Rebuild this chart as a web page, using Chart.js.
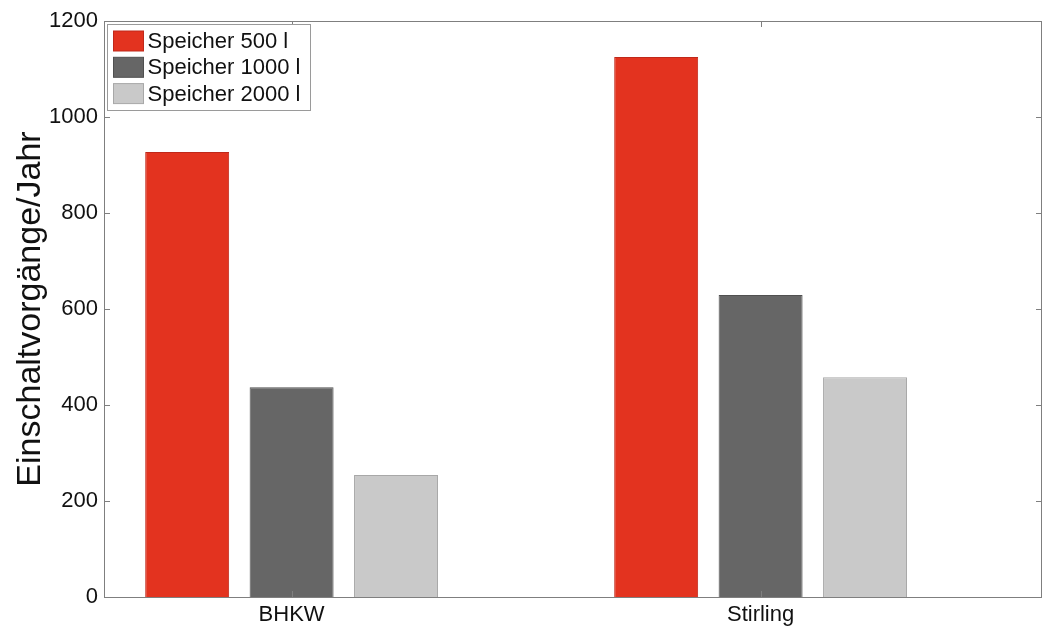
<!DOCTYPE html>
<html>
<head>
<meta charset="utf-8">
<script src="https://cdn.jsdelivr.net/npm/chart.js@4/dist/chart.umd.min.js"></script>
<style>
  html, body { margin: 0; padding: 0; background: #ffffff; }
  #wrap { width: 1045px; height: 628px; position: relative; }
</style>
</head>
<body>
<div id="wrap"><canvas id="c"></canvas></div>
<script>
// Switching operations per year for two CHP units and three storage sizes
const categories = ['BHKW', 'Stirling'];
const seriesLabels = ['Speicher 500 l', 'Speicher 1000 l', 'Speicher 2000 l'];
const speicher500 = [927, 1125];
const speicher1000 = [437, 629];
const speicher2000 = [254, 458];
const yTicks = [0, 200, 400, 600, 800, 1000, 1200];

const FONT = '"Liberation Sans", Arial, Helvetica, sans-serif';
const fills = ['#E3331F', '#666666', '#C9C9C9'];
const edges = ['#C0281A', '#505050', '#A8A8A8'];
const seriesValues = [speicher500, speicher1000, speicher2000];

// categories sit at x = 1, 2 on a linear axis running from 0.6 to 2.6
const catPos = categories.map((_, i) => i + 1);

const datasets = seriesValues.map((vals, s) => ({
  label: seriesLabels[s],
  data: vals.map((v, i) => ({ x: catPos[i], y: v })),
  backgroundColor: fills[s],
  borderColor: edges[s],
  borderWidth: 1,
  categoryPercentage: 0.668,
  barPercentage: 0.804
}));

// frame with inward ticks on all four sides, plus the legend box inside the plot
const framePlugin = {
  id: 'frame',
  afterDraw(chart) {
    const ctx = chart.ctx;
    const a = chart.chartArea;
    const xs = chart.scales.x, ys = chart.scales.y;
    ctx.save();
    ctx.strokeStyle = '#7f7f7f';
    ctx.lineWidth = 1;
    ctx.beginPath();
    ctx.rect(Math.round(a.left) + 0.5, Math.round(a.top) + 0.5,
             Math.round(a.right - a.left) - 1, Math.round(a.bottom - a.top));
    ctx.stroke();
    const tl = 6;
    ctx.beginPath();
    yTicks.forEach(v => {
      const y = Math.round(ys.getPixelForValue(v)) + 0.5;
      ctx.moveTo(a.left, y); ctx.lineTo(a.left + tl, y);
      ctx.moveTo(a.right, y); ctx.lineTo(a.right - tl, y);
    });
    catPos.forEach(v => {
      const x = Math.round(xs.getPixelForValue(v)) + 0.5;
      ctx.moveTo(x, a.bottom); ctx.lineTo(x, a.bottom - tl);
      ctx.moveTo(x, a.top); ctx.lineTo(x, a.top + tl);
    });
    ctx.stroke();

    // legend
    const lx = Math.round(a.left) + 3.5, ly = Math.round(a.top) + 3.5;
    const lw = 203, lh = 86;
    ctx.fillStyle = '#ffffff';
    ctx.fillRect(lx, ly, lw, lh);
    ctx.strokeStyle = '#9a9a9a';
    ctx.strokeRect(lx, ly, lw, lh);
    ctx.font = '22px ' + FONT;
    ctx.textBaseline = 'middle';
    ctx.textAlign = 'left';
    chart.data.datasets.forEach((ds, i) => {
      const cy = ly + 16.5 + i * 26.3;
      ctx.fillStyle = ds.backgroundColor;
      ctx.fillRect(lx + 6, cy - 10, 30, 20);
      ctx.strokeStyle = ds.borderColor;
      ctx.strokeRect(lx + 6, cy - 10, 30, 20);
      ctx.fillStyle = '#111111';
      ctx.fillText(ds.label, lx + 40, cy + 1);
    });
    ctx.restore();
  }
};

new Chart(document.getElementById('c'), {
  type: 'bar',
  data: { datasets },
  plugins: [framePlugin],
  options: {
    responsive: true,
    maintainAspectRatio: false,
    animation: false,
    layout: { padding: { top: 21, right: 3, left: 0, bottom: 0 } },
    plugins: {
      legend: { display: false },
      tooltip: { enabled: false }
    },
    scales: {
      x: {
        type: 'linear',
        min: 0.6,
        max: 2.6,
        offset: false,
        grid: { display: false, drawTicks: false },
        border: { display: false },
        afterBuildTicks(scale) { scale.ticks = catPos.map(v => ({ value: v })); },
        afterFit(scale) { scale.height = 31; },
        ticks: {
          autoSkip: false,
          maxRotation: 0,
          padding: 5,
          color: '#111111',
          font: { family: FONT, size: 22 },
          callback: (v) => categories[catPos.indexOf(v)] ?? ''
        }
      },
      y: {
        min: 0,
        max: 1200,
        grid: { display: false, drawTicks: false },
        border: { display: false },
        afterBuildTicks(scale) { scale.ticks = yTicks.map(v => ({ value: v })); },
        afterFit(scale) { scale.width = 104; },
        ticks: {
          padding: 6,
          color: '#111111',
          font: { family: FONT, size: 22 },
          callback: (v) => String(v)
        },
        title: {
          display: true,
          text: 'Einschaltvorgänge/Jahr',
          color: '#111111',
          font: { family: FONT, size: 34 },
          padding: { top: 10, bottom: 0 }
        }
      }
    }
  }
});
</script>
</body>
</html>
